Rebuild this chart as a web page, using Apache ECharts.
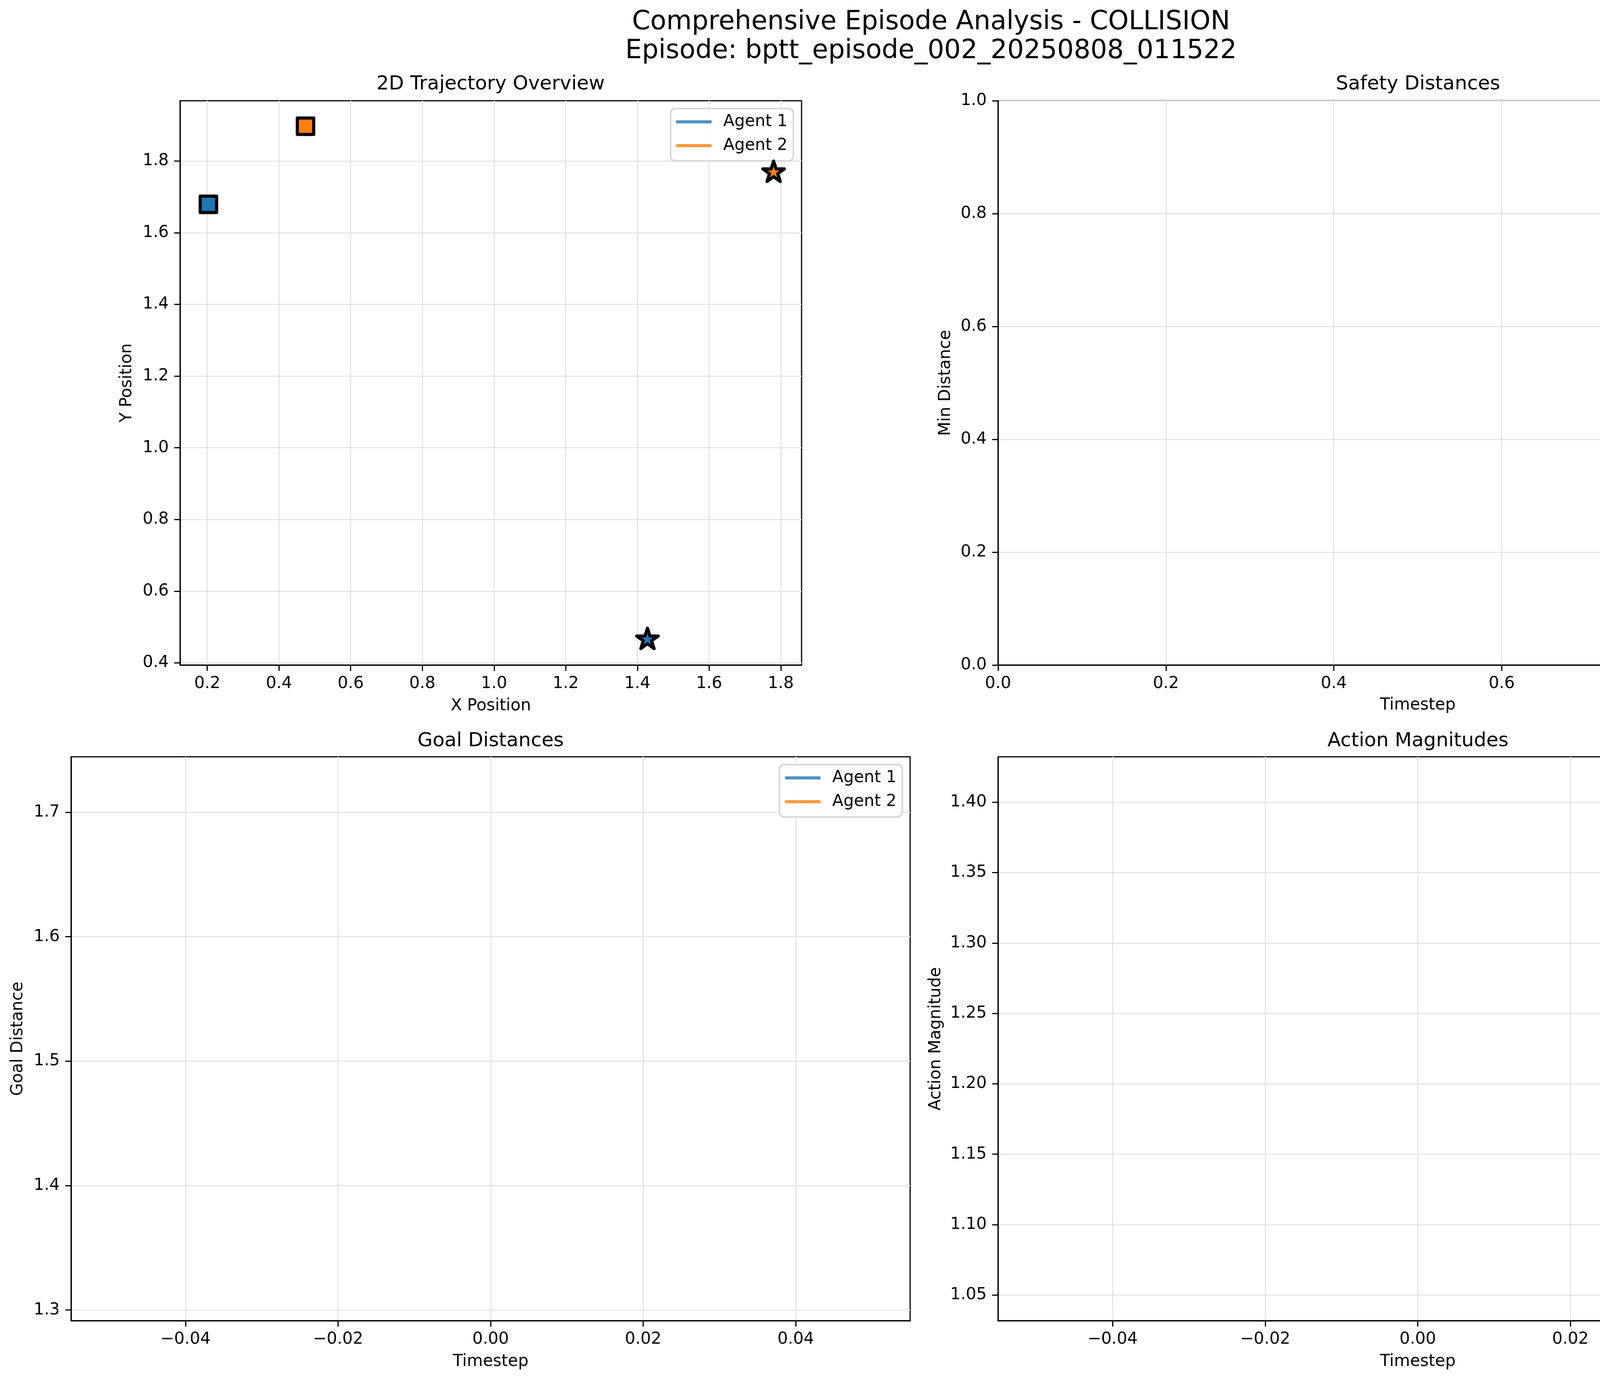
<!DOCTYPE html>
<html>
<head>
<meta charset="utf-8">
<script src="https://cdn.jsdelivr.net/npm/echarts@6/dist/echarts.min.js"></script>
<style>
  html, body { margin: 0; padding: 0; background: #fff; }
  #chart { width: 4767px; height: 3539px; }
</style>
</head>
<body>
<div id="chart"></div>
<script>
// episode data (one timestep only)
const agent1TrajX = [0.203];
const agent1TrajY = [1.679];
const agent2TrajX = [0.474];
const agent2TrajY = [1.897];
const goalX = [1.428, 1.780];
const goalY = [0.465, 1.768];

const timesteps = [0];
const safetyDist = [];
const goalDist1 = [1.724];
const goalDist2 = [1.312];
const actionMag1 = [1.414];
const actionMag2 = [1.050];

// tick labels
const trajXTicks = [0.2, 0.4, 0.6, 0.8, 1.0, 1.2, 1.4, 1.6, 1.8];
const trajYTicks = [0.4, 0.6, 0.8, 1.0, 1.2, 1.4, 1.6, 1.8];
const unitTicks = [0, 0.2, 0.4, 0.6, 0.8, 1.0];
const timeTicks = [-0.04, -0.02, 0, 0.02, 0.04];
const goalTicks = [1.3, 1.4, 1.5, 1.6, 1.7];
const actionTicks = [1.05, 1.10, 1.15, 1.20, 1.25, 1.30, 1.35, 1.40];

const blue = '#1f77b4', orange = '#ff7f0e';
const blueLine = 'rgba(31,119,180,0.8)', orangeLine = 'rgba(255,127,14,0.8)';
const FONT = 'DejaVu Sans';

function zip(xs, ys) {
    return xs.map(function (x, i) { return [x, ys[i]]; });
}

// matplotlib style auto limits (5% margin)
function pad(vals) {
    let lo = Math.min.apply(null, vals), hi = Math.max.apply(null, vals);
    let m = (hi - lo) * 0.05;
    return [lo - m, hi + m];
}

// 5 point star like matplotlib '*'
let starPath = 'path://';
for (let i = 0; i < 10; i++) {
    let a = -Math.PI / 2 + i * Math.PI / 5;
    let r = (i % 2 === 0) ? 100 : 38.197;
    starPath += (i === 0 ? 'M' : 'L') + (r * Math.cos(a)).toFixed(2) + ',' + (r * Math.sin(a)).toFixed(2);
}
starPath += 'Z';

function fmt(dec) {
    return function (v) {
        return (+v).toFixed(dec).replace('-', '\u2212');
    };
}

function axis(gridIndex, min, max, ticks, dec, name, gap, isY) {
    return {
        type: 'value',
        gridIndex: gridIndex,
        min: min,
        max: max,
        name: name,
        nameLocation: 'middle',
        nameGap: gap,
        nameTextStyle: { fontFamily: FONT, fontSize: 42, color: '#000' },
        axisLine: { show: true, onZero: false, lineStyle: { color: '#000', width: 3 } },
        axisTick: { show: true, inside: false, length: 15, customValues: ticks, lineStyle: { color: '#000', width: 3 } },
        axisLabel: {
            customValues: ticks,
            formatter: fmt(dec),
            margin: isY ? 29 : 27,
            fontFamily: FONT, fontSize: 42, color: '#000'
        },
        splitLine: { show: true, lineStyle: { color: '#e6e6e6', width: 3 } }
    };
}

function legend(right, top) {
    return {
        data: ['Agent 1', 'Agent 2'],
        orient: 'vertical',
        right: right,
        top: top,
        icon: 'rect',
        itemWidth: 91,
        itemHeight: 8,
        itemGap: 19,
        padding: [13, 15, 18, 14],
        backgroundColor: 'rgba(255,255,255,0.8)',
        borderColor: '#d6d6d6',
        borderWidth: 4,
        borderRadius: 12,
        textStyle: { fontFamily: FONT, fontSize: 42, color: '#000', lineHeight: 42, padding: [0, 0, 0, 25] }
    };
}

const goalLim = pad(goalDist1.concat(goalDist2));
const actionLim = pad(actionMag1.concat(actionMag2));

const gridStyle = { show: true, borderColor: '#000', borderWidth: 3, backgroundColor: 'transparent' };

function marker(data, symbol, size, color, extra) {
    return Object.assign({
        type: 'scatter', xAxisIndex: 0, yAxisIndex: 0, data: data,
        symbol: symbol, symbolSize: size,
        itemStyle: { color: color, opacity: 1, borderColor: '#000', borderWidth: 8, borderJoin: 'round' },
        emphasis: { disabled: true }
    }, extra);
}

const option = {
    backgroundColor: '#fff',
    animation: false,
    title: [
        {
            text: 'Comprehensive Episode Analysis - COLLISION\nEpisode: bptt_episode_002_20250808_011522',
            left: 'center', top: 21, padding: 0,
            textStyle: { fontFamily: FONT, fontSize: 67, lineHeight: 74, fontWeight: 'normal', color: '#000', align: 'center' }
        },
        { text: '2D Trajectory Overview', left: 1256, top: 191, padding: 0, textAlign: 'center',
          textStyle: { fontFamily: FONT, fontSize: 50, fontWeight: 'normal', color: '#000' } },
        { text: 'Safety Distances', left: 3630, top: 191, padding: 0, textAlign: 'center',
          textStyle: { fontFamily: FONT, fontSize: 50, fontWeight: 'normal', color: '#000' } },
        { text: 'Goal Distances', left: 1256, top: 1873, padding: 0, textAlign: 'center',
          textStyle: { fontFamily: FONT, fontSize: 50, fontWeight: 'normal', color: '#000' } },
        { text: 'Action Magnitudes', left: 3630, top: 1873, padding: 0, textAlign: 'center',
          textStyle: { fontFamily: FONT, fontSize: 50, fontWeight: 'normal', color: '#000' } }
    ],
    legend: [
        legend(2736, 278),
        legend(2457, 1958),
        legend(83, 1958)
    ],
    grid: [
        Object.assign({ left: 461, right: 2715, top: 258, bottom: 3539 - 1703 }, gridStyle),
        Object.assign({ left: 2555, right: 63, top: 258, bottom: 3539 - 1703 }, gridStyle),
        Object.assign({ left: 182, right: 2437, top: 1938, bottom: 3539 - 3382 }, gridStyle),
        Object.assign({ left: 2555, right: 63, top: 1938, bottom: 3539 - 3382 }, gridStyle)
    ],
    xAxis: [
        axis(0, 0.124, 1.858, trajXTicks, 1, 'X Position', 84, false),
        axis(1, 0, 1, unitTicks, 1, 'Timestep', 82, false),
        axis(2, -0.055, 0.055, timeTicks, 2, 'Timestep', 84, false),
        axis(3, -0.055, 0.055, timeTicks, 2, 'Timestep', 84, false)
    ],
    yAxis: [
        axis(0, 0.394, 1.968, trajYTicks, 1, 'Y Position', 115, true),
        axis(1, 0, 1, unitTicks, 1, 'Min Distance', 113, true),
        axis(2, goalLim[0], goalLim[1], goalTicks, 1, 'Goal Distance', 115, true),
        axis(3, actionLim[0], actionLim[1], actionTicks, 2, 'Action Magnitude', 138, true)
    ],
    series: [
        // trajectory
        { name: 'Agent 1', type: 'line', xAxisIndex: 0, yAxisIndex: 0, data: zip(agent1TrajX, agent1TrajY),
          showSymbol: false, color: blueLine, lineStyle: { width: 8 } },
        { name: 'Agent 2', type: 'line', xAxisIndex: 0, yAxisIndex: 0, data: zip(agent2TrajX, agent2TrajY),
          showSymbol: false, color: orangeLine, lineStyle: { width: 8 } },
        // start squares
        marker([[agent1TrajX[0], agent1TrajY[0]]], 'rect', 42, blue, { name: 'start1', z: 3 }),
        marker([[agent2TrajX[0], agent2TrajY[0]]], 'rect', 42, orange, { name: 'start2', z: 3 }),
        // goal stars
        marker([[goalX[0], goalY[0]]], starPath, 55, blue,
            { name: 'goal1', z: 4, symbolKeepAspect: true, symbolOffset: [0, -3] }),
        marker([[goalX[1], goalY[1]]], starPath, 55, orange,
            { name: 'goal2', z: 4, symbolKeepAspect: true, symbolOffset: [0, -3] }),
        // safety distances (empty)
        { name: 'safety', type: 'line', xAxisIndex: 1, yAxisIndex: 1, data: safetyDist, showSymbol: false },
        // goal distances
        { name: 'Agent 1', type: 'line', xAxisIndex: 2, yAxisIndex: 2, data: zip(timesteps, goalDist1),
          showSymbol: false, color: blueLine, lineStyle: { width: 8 } },
        { name: 'Agent 2', type: 'line', xAxisIndex: 2, yAxisIndex: 2, data: zip(timesteps, goalDist2),
          showSymbol: false, color: orangeLine, lineStyle: { width: 8 } },
        // action magnitudes
        { name: 'Agent 1', type: 'line', xAxisIndex: 3, yAxisIndex: 3, data: zip(timesteps, actionMag1),
          showSymbol: false, color: blueLine, lineStyle: { width: 8 } },
        { name: 'Agent 2', type: 'line', xAxisIndex: 3, yAxisIndex: 3, data: zip(timesteps, actionMag2),
          showSymbol: false, color: orangeLine, lineStyle: { width: 8 } }
    ],
    graphic: [
        // empty legend frame of the safety plot
        { type: 'rect', left: 4651, top: 279, z: 100,
          shape: { width: 34, height: 34, r: 8 },
          style: { fill: 'rgba(255,255,255,0.8)', stroke: '#d6d6d6', lineWidth: 4 } }
    ]
};

const chart = echarts.init(document.getElementById('chart'));
chart.setOption(option);
</script>
</body>
</html>
